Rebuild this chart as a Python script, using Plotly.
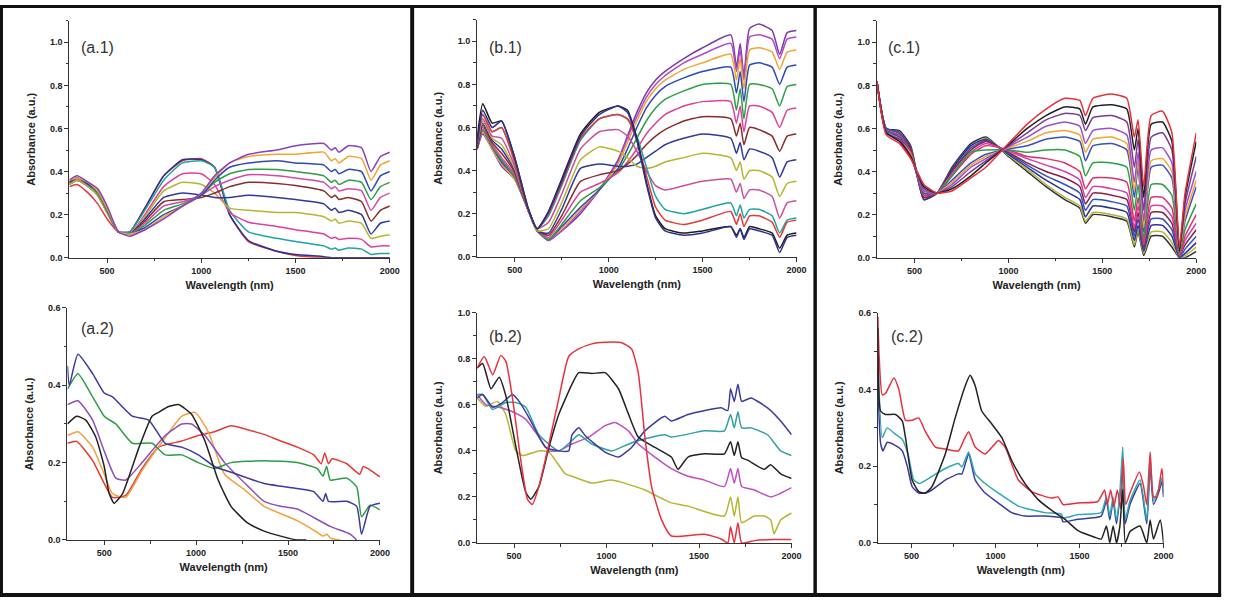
import plotly.graph_objects as go

W, H = 1245, 603

# ---------------- (a.1) ----------------
A1_WL = [300, 340, 400, 450, 500, 560, 620, 700, 800, 900, 1000, 1070, 1150, 1250, 1400, 1500, 1650, 1690, 1710, 1730, 1780, 1850, 1900, 1950, 2000]
A1_ABS = [
    [0.33, 0.34, 0.30, 0.25, 0.18, 0.12, 0.12, 0.23, 0.38, 0.45, 0.46, 0.42, 0.20, 0.075, 0.03, 0.01, 0.0, 0.0, 0.0, 0.0, 0.0, 0.0, 0.0, 0.0, 0.0],
    [0.34, 0.36, 0.33, 0.29, 0.21, 0.12, 0.12, 0.23, 0.38, 0.455, 0.455, 0.42, 0.20, 0.08, 0.03, 0.015, 0.005, 0.0, 0.0, 0.0, 0.0, 0.0, 0.0, 0.0, 0.0],
    [0.34, 0.36, 0.33, 0.29, 0.21, 0.12, 0.12, 0.22, 0.36, 0.44, 0.45, 0.42, 0.22, 0.12, 0.09, 0.075, 0.055, 0.04, 0.045, 0.035, 0.045, 0.04, 0.015, 0.02, 0.02],
    [0.34, 0.36, 0.33, 0.29, 0.21, 0.12, 0.11, 0.20, 0.33, 0.39, 0.39, 0.34, 0.21, 0.165, 0.145, 0.13, 0.11, 0.09, 0.095, 0.085, 0.09, 0.085, 0.05, 0.055, 0.055],
    [0.34, 0.36, 0.33, 0.29, 0.21, 0.12, 0.11, 0.19, 0.31, 0.35, 0.34, 0.30, 0.23, 0.22, 0.21, 0.21, 0.19, 0.17, 0.18, 0.16, 0.17, 0.16, 0.09, 0.10, 0.105],
    [0.35, 0.37, 0.34, 0.30, 0.22, 0.12, 0.11, 0.18, 0.28, 0.30, 0.29, 0.28, 0.28, 0.29, 0.28, 0.27, 0.25, 0.22, 0.23, 0.21, 0.22, 0.20, 0.11, 0.16, 0.17],
    [0.35, 0.37, 0.34, 0.30, 0.22, 0.12, 0.11, 0.17, 0.26, 0.27, 0.28, 0.30, 0.33, 0.35, 0.345, 0.335, 0.31, 0.28, 0.29, 0.27, 0.28, 0.26, 0.17, 0.22, 0.24],
    [0.35, 0.37, 0.34, 0.30, 0.22, 0.12, 0.11, 0.16, 0.24, 0.26, 0.29, 0.33, 0.36, 0.385, 0.38, 0.37, 0.35, 0.32, 0.33, 0.31, 0.32, 0.31, 0.22, 0.28, 0.30],
    [0.35, 0.37, 0.34, 0.30, 0.22, 0.12, 0.11, 0.15, 0.22, 0.25, 0.29, 0.35, 0.39, 0.41, 0.41, 0.40, 0.38, 0.35, 0.36, 0.34, 0.36, 0.35, 0.27, 0.33, 0.35],
    [0.35, 0.37, 0.34, 0.31, 0.23, 0.12, 0.11, 0.14, 0.20, 0.24, 0.29, 0.36, 0.42, 0.44, 0.45, 0.44, 0.43, 0.40, 0.41, 0.39, 0.41, 0.40, 0.31, 0.38, 0.40],
    [0.36, 0.37, 0.35, 0.31, 0.23, 0.12, 0.11, 0.13, 0.19, 0.24, 0.30, 0.37, 0.44, 0.47, 0.48, 0.48, 0.49, 0.45, 0.46, 0.44, 0.47, 0.46, 0.36, 0.43, 0.45],
    [0.36, 0.38, 0.35, 0.32, 0.24, 0.12, 0.10, 0.13, 0.18, 0.24, 0.30, 0.38, 0.44, 0.48, 0.50, 0.52, 0.53, 0.50, 0.51, 0.49, 0.52, 0.51, 0.40, 0.47, 0.49],
]
A1_COLORS = ["#e5383b", "#2c3190", "#1fa3a3", "#e0409c", "#b5b532", "#2e3a9a",
             "#8b2b2b", "#d04aa8", "#2e9e44", "#2f48b8", "#f2a531", "#8a40b8"]

# ---------------- (a.2) ----------------
A2_BLUE_X = [300, 310, 357, 437, 500, 545, 653, 742, 832, 922, 1012, 1100, 1190, 1370, 1550, 1640, 1690, 1705, 1720, 1820, 1874, 1900, 1946, 2000]
A2_BLUE_Y = [0.45, 0.40, 0.48, 0.43, 0.38, 0.37, 0.32, 0.31, 0.25, 0.24, 0.22, 0.19, 0.175, 0.146, 0.133, 0.125, 0.10, 0.12, 0.10, 0.10, 0.087, 0.015, 0.087, 0.095]
A2_GREEN_X = [300, 357, 437, 500, 563, 653, 760, 832, 922, 1012, 1100, 1190, 1370, 1550, 1658, 1690, 1710, 1730, 1820, 1874, 1900, 1946, 2000]
A2_GREEN_Y = [0.39, 0.43, 0.37, 0.32, 0.30, 0.25, 0.25, 0.22, 0.22, 0.20, 0.185, 0.20, 0.205, 0.20, 0.185, 0.165, 0.19, 0.155, 0.16, 0.137, 0.06, 0.09, 0.078]
A2_PURPLE_X = [300, 357, 437, 500, 563, 617, 706, 832, 922, 975, 1048, 1155, 1280, 1370, 1460, 1550, 1730, 1838, 1874]
A2_PURPLE_Y = [0.35, 0.36, 0.31, 0.23, 0.16, 0.155, 0.20, 0.27, 0.30, 0.30, 0.27, 0.20, 0.14, 0.10, 0.087, 0.08, 0.035, 0.015, 0.0]
A2_BLACK_X = [300, 350, 400, 455, 500, 527, 554, 600, 690, 760, 796, 850, 904, 975, 1048, 1120, 1190, 1280, 1370, 1460, 1550, 1600]
A2_BLACK_Y = [0.30, 0.32, 0.31, 0.265, 0.19, 0.12, 0.095, 0.12, 0.24, 0.32, 0.33, 0.345, 0.35, 0.325, 0.256, 0.155, 0.087, 0.044, 0.023, 0.01, 0.0, 0.0]
A2_ORANGE_X = [300, 357, 437, 500, 545, 617, 706, 832, 922, 994, 1066, 1155, 1263, 1370, 1550, 1658, 1690, 1712, 1730, 1784]
A2_ORANGE_Y = [0.27, 0.28, 0.24, 0.17, 0.12, 0.11, 0.18, 0.265, 0.32, 0.33, 0.28, 0.17, 0.13, 0.087, 0.05, 0.02, 0.01, 0.015, 0.005, 0.0]
A2_RED_X = [300, 350, 437, 500, 545, 617, 706, 796, 922, 1012, 1100, 1190, 1280, 1370, 1460, 1550, 1640, 1680, 1700, 1720, 1740, 1820, 1890, 1910, 2000]
A2_RED_Y = [0.25, 0.255, 0.205, 0.146, 0.11, 0.115, 0.185, 0.24, 0.256, 0.27, 0.28, 0.295, 0.285, 0.273, 0.256, 0.24, 0.22, 0.197, 0.225, 0.197, 0.21, 0.197, 0.17, 0.19, 0.163]

# ---------------- (b.1) ----------------
B1_WL = [300, 330, 380, 430, 500, 570, 620, 680, 750, 850, 950, 1050, 1100, 1150, 1200, 1250, 1300, 1400, 1500, 1650, 1680, 1700, 1720, 1750, 1800, 1870, 1910, 1950, 2000]
B1_ABS = [
    [0.52, 0.68, 0.60, 0.63, 0.46, 0.23, 0.13, 0.21, 0.35, 0.56, 0.66, 0.70, 0.67, 0.54, 0.34, 0.18, 0.12, 0.10, 0.11, 0.14, 0.09, 0.13, 0.08, 0.13, 0.12, 0.10, 0.02, 0.09, 0.10],
    [0.55, 0.71, 0.62, 0.63, 0.46, 0.23, 0.13, 0.21, 0.36, 0.57, 0.67, 0.70, 0.68, 0.55, 0.35, 0.19, 0.13, 0.11, 0.12, 0.14, 0.10, 0.13, 0.09, 0.14, 0.13, 0.11, 0.04, 0.10, 0.11],
    [0.53, 0.66, 0.58, 0.60, 0.44, 0.22, 0.13, 0.20, 0.34, 0.55, 0.64, 0.66, 0.64, 0.54, 0.38, 0.23, 0.17, 0.15, 0.17, 0.21, 0.15, 0.20, 0.14, 0.19, 0.19, 0.16, 0.09, 0.16, 0.17],
    [0.53, 0.66, 0.58, 0.60, 0.44, 0.22, 0.13, 0.19, 0.33, 0.54, 0.64, 0.66, 0.64, 0.56, 0.42, 0.28, 0.22, 0.20, 0.22, 0.25, 0.19, 0.24, 0.18, 0.22, 0.22, 0.19, 0.11, 0.17, 0.18],
    [0.52, 0.64, 0.56, 0.55, 0.42, 0.22, 0.13, 0.16, 0.29, 0.50, 0.58, 0.59, 0.56, 0.49, 0.40, 0.33, 0.31, 0.33, 0.35, 0.36, 0.30, 0.34, 0.27, 0.31, 0.31, 0.28, 0.18, 0.25, 0.26],
    [0.52, 0.63, 0.55, 0.52, 0.41, 0.22, 0.12, 0.13, 0.25, 0.45, 0.51, 0.49, 0.46, 0.42, 0.41, 0.42, 0.44, 0.46, 0.48, 0.46, 0.40, 0.44, 0.36, 0.40, 0.40, 0.37, 0.28, 0.34, 0.35],
    [0.51, 0.62, 0.54, 0.50, 0.40, 0.22, 0.12, 0.11, 0.22, 0.41, 0.43, 0.42, 0.42, 0.43, 0.46, 0.49, 0.52, 0.55, 0.57, 0.55, 0.48, 0.53, 0.45, 0.50, 0.49, 0.46, 0.37, 0.44, 0.45],
    [0.50, 0.61, 0.53, 0.48, 0.39, 0.22, 0.12, 0.10, 0.19, 0.35, 0.38, 0.40, 0.43, 0.47, 0.52, 0.56, 0.59, 0.63, 0.65, 0.64, 0.56, 0.62, 0.52, 0.60, 0.59, 0.56, 0.49, 0.56, 0.57],
    [0.50, 0.60, 0.52, 0.46, 0.38, 0.22, 0.12, 0.09, 0.17, 0.30, 0.34, 0.39, 0.44, 0.50, 0.57, 0.62, 0.66, 0.70, 0.72, 0.72, 0.62, 0.70, 0.58, 0.70, 0.70, 0.67, 0.60, 0.68, 0.69],
    [0.50, 0.59, 0.51, 0.45, 0.37, 0.22, 0.12, 0.08, 0.15, 0.26, 0.32, 0.40, 0.47, 0.55, 0.63, 0.69, 0.73, 0.77, 0.80, 0.80, 0.68, 0.78, 0.64, 0.80, 0.80, 0.78, 0.70, 0.79, 0.80],
    [0.50, 0.59, 0.51, 0.44, 0.37, 0.22, 0.12, 0.08, 0.14, 0.23, 0.31, 0.41, 0.50, 0.60, 0.69, 0.75, 0.79, 0.83, 0.86, 0.88, 0.76, 0.86, 0.72, 0.89, 0.90, 0.88, 0.80, 0.88, 0.89],
    [0.50, 0.58, 0.50, 0.43, 0.36, 0.22, 0.12, 0.08, 0.13, 0.22, 0.31, 0.43, 0.53, 0.63, 0.72, 0.78, 0.82, 0.87, 0.90, 0.94, 0.82, 0.92, 0.78, 0.96, 0.97, 0.95, 0.87, 0.95, 0.96],
    [0.50, 0.58, 0.50, 0.43, 0.36, 0.22, 0.12, 0.075, 0.12, 0.21, 0.31, 0.44, 0.55, 0.65, 0.74, 0.80, 0.84, 0.90, 0.94, 0.99, 0.86, 0.96, 0.82, 1.02, 1.03, 1.01, 0.92, 1.01, 1.02],
    [0.50, 0.57, 0.50, 0.42, 0.36, 0.22, 0.12, 0.075, 0.12, 0.20, 0.31, 0.45, 0.56, 0.67, 0.76, 0.82, 0.86, 0.92, 0.97, 1.03, 0.88, 0.99, 0.84, 1.06, 1.08, 1.05, 0.94, 1.04, 1.05],
]
B1_COLORS = ["#2c3190", "#1e1e1e", "#e53935", "#1fa3a3", "#c8509c", "#b5b532", "#2e3a9a",
             "#8b2b2b", "#e0409c", "#2e9e44", "#2f48b8", "#f2a531", "#b04ac8", "#7a3aa8"]

# ---------------- (b.2) ----------------
B2_RED_X = [300, 339, 384, 428, 455, 491, 536, 572, 598, 634, 688, 742, 795, 849, 920, 992, 1082, 1135, 1171, 1207, 1243, 1297, 1350, 1529, 1619, 1655, 1670, 1690, 1710, 1730, 1800, 1900, 2000]
B2_RED_Y = [0.76, 0.81, 0.73, 0.815, 0.79, 0.63, 0.36, 0.19, 0.167, 0.245, 0.43, 0.63, 0.81, 0.843, 0.865, 0.872, 0.87, 0.843, 0.74, 0.46, 0.245, 0.10, 0.03, 0.038, 0.017, 0.0, 0.07, 0.0, 0.088, 0.0, 0.01, 0.015, 0.015]
B2_BLACK_X = [300, 330, 375, 419, 455, 509, 563, 590, 634, 688, 742, 813, 849, 920, 992, 1064, 1118, 1171, 1261, 1350, 1386, 1440, 1529, 1637, 1670, 1690, 1710, 1730, 1762, 1852, 1887, 1941, 2000]
B2_BLACK_Y = [0.76, 0.78, 0.67, 0.72, 0.64, 0.42, 0.22, 0.19, 0.245, 0.415, 0.56, 0.69, 0.74, 0.736, 0.74, 0.67, 0.56, 0.46, 0.415, 0.373, 0.32, 0.373, 0.387, 0.387, 0.44, 0.38, 0.44, 0.37, 0.36, 0.32, 0.34, 0.30, 0.28]
B2_BLUE_X = [300, 330, 384, 437, 491, 527, 580, 670, 742, 795, 813, 849, 885, 992, 1064, 1135, 1207, 1314, 1350, 1440, 1619, 1655, 1670, 1690, 1710, 1730, 1780, 1870, 1941, 2000]
B2_BLUE_Y = [0.63, 0.645, 0.59, 0.61, 0.645, 0.615, 0.545, 0.415, 0.40, 0.40, 0.47, 0.50, 0.466, 0.395, 0.373, 0.415, 0.487, 0.55, 0.53, 0.558, 0.587, 0.575, 0.67, 0.615, 0.69, 0.615, 0.63, 0.587, 0.53, 0.47]
B2_TEAL_X = [300, 330, 384, 455, 509, 563, 634, 742, 813, 849, 920, 1028, 1100, 1171, 1314, 1350, 1529, 1637, 1670, 1690, 1710, 1730, 1780, 1870, 1941, 2000]
B2_TEAL_Y = [0.645, 0.645, 0.58, 0.61, 0.61, 0.59, 0.47, 0.40, 0.445, 0.47, 0.43, 0.40, 0.423, 0.445, 0.47, 0.46, 0.487, 0.487, 0.558, 0.50, 0.57, 0.50, 0.50, 0.47, 0.40, 0.38]
B2_MAGENTA_X = [300, 348, 419, 491, 563, 634, 688, 742, 813, 903, 992, 1046, 1118, 1171, 1261, 1350, 1440, 1529, 1637, 1670, 1690, 1710, 1730, 1798, 1887, 1941, 2000]
B2_MAGENTA_Y = [0.645, 0.60, 0.59, 0.57, 0.537, 0.46, 0.40, 0.40, 0.43, 0.46, 0.51, 0.523, 0.487, 0.43, 0.373, 0.323, 0.29, 0.273, 0.245, 0.323, 0.26, 0.323, 0.245, 0.23, 0.20, 0.216, 0.24]
B2_OLIVE_X = [300, 348, 410, 455, 509, 545, 634, 688, 777, 813, 920, 1028, 1135, 1207, 1350, 1440, 1637, 1670, 1690, 1710, 1730, 1798, 1852, 1887, 1905, 1941, 2000]
B2_OLIVE_Y = [0.63, 0.594, 0.615, 0.558, 0.40, 0.38, 0.40, 0.395, 0.30, 0.29, 0.26, 0.273, 0.25, 0.23, 0.174, 0.16, 0.117, 0.20, 0.117, 0.20, 0.088, 0.117, 0.117, 0.10, 0.04, 0.10, 0.13]

# ---------------- (c.1) ----------------
C1_WL = [300, 350, 420, 480, 550, 620, 700, 800, 880, 1000, 1100, 1200, 1300, 1380, 1410, 1450, 1550, 1630, 1670, 1690, 1720, 1760, 1820, 1870, 1910, 1940, 2000]
C1_ABS = [
    [0.82, 0.60, 0.59, 0.52, 0.27, 0.30, 0.42, 0.53, 0.56, 0.47, 0.40, 0.33, 0.27, 0.23, 0.16, 0.20, 0.19, 0.17, 0.05, 0.12, 0.01, 0.10, 0.10, 0.05, 0.0, 0.0, 0.03],
    [0.82, 0.60, 0.58, 0.51, 0.27, 0.30, 0.41, 0.52, 0.555, 0.475, 0.41, 0.34, 0.28, 0.24, 0.17, 0.21, 0.20, 0.18, 0.06, 0.13, 0.02, 0.12, 0.12, 0.07, 0.0, 0.01, 0.05],
    [0.82, 0.60, 0.58, 0.51, 0.27, 0.30, 0.41, 0.52, 0.55, 0.48, 0.42, 0.36, 0.31, 0.27, 0.19, 0.24, 0.23, 0.21, 0.08, 0.15, 0.03, 0.15, 0.15, 0.10, 0.0, 0.02, 0.07],
    [0.82, 0.60, 0.58, 0.50, 0.28, 0.30, 0.40, 0.51, 0.545, 0.485, 0.43, 0.38, 0.34, 0.30, 0.22, 0.27, 0.26, 0.24, 0.10, 0.18, 0.04, 0.18, 0.18, 0.13, 0.0, 0.04, 0.10],
    [0.82, 0.59, 0.57, 0.50, 0.28, 0.30, 0.40, 0.50, 0.54, 0.49, 0.44, 0.40, 0.37, 0.33, 0.25, 0.30, 0.29, 0.27, 0.12, 0.21, 0.05, 0.21, 0.21, 0.16, 0.01, 0.06, 0.13],
    [0.82, 0.59, 0.57, 0.49, 0.29, 0.30, 0.39, 0.49, 0.53, 0.495, 0.46, 0.43, 0.40, 0.36, 0.28, 0.33, 0.32, 0.30, 0.14, 0.24, 0.06, 0.24, 0.24, 0.19, 0.01, 0.08, 0.16],
    [0.82, 0.59, 0.57, 0.49, 0.29, 0.30, 0.38, 0.48, 0.52, 0.50, 0.47, 0.46, 0.44, 0.40, 0.32, 0.37, 0.37, 0.35, 0.17, 0.28, 0.07, 0.28, 0.28, 0.23, 0.01, 0.10, 0.20],
    [0.82, 0.59, 0.56, 0.48, 0.30, 0.30, 0.38, 0.49, 0.50, 0.50, 0.49, 0.50, 0.50, 0.47, 0.38, 0.44, 0.44, 0.42, 0.22, 0.34, 0.09, 0.34, 0.34, 0.29, 0.02, 0.13, 0.25],
    [0.82, 0.59, 0.56, 0.48, 0.30, 0.30, 0.36, 0.44, 0.48, 0.505, 0.52, 0.55, 0.56, 0.54, 0.45, 0.52, 0.53, 0.50, 0.28, 0.42, 0.12, 0.42, 0.43, 0.37, 0.03, 0.17, 0.33],
    [0.82, 0.58, 0.55, 0.48, 0.31, 0.30, 0.35, 0.43, 0.47, 0.51, 0.54, 0.58, 0.59, 0.57, 0.49, 0.55, 0.56, 0.53, 0.31, 0.45, 0.14, 0.45, 0.46, 0.40, 0.03, 0.19, 0.36],
    [0.82, 0.58, 0.55, 0.47, 0.31, 0.30, 0.34, 0.42, 0.46, 0.515, 0.56, 0.61, 0.63, 0.61, 0.53, 0.59, 0.60, 0.57, 0.35, 0.49, 0.17, 0.50, 0.51, 0.44, 0.04, 0.22, 0.40],
    [0.82, 0.58, 0.55, 0.47, 0.32, 0.30, 0.33, 0.40, 0.45, 0.52, 0.58, 0.64, 0.67, 0.66, 0.59, 0.65, 0.66, 0.63, 0.42, 0.55, 0.22, 0.56, 0.58, 0.50, 0.04, 0.25, 0.47],
    [0.82, 0.58, 0.54, 0.47, 0.33, 0.30, 0.32, 0.38, 0.44, 0.525, 0.60, 0.66, 0.70, 0.69, 0.62, 0.70, 0.71, 0.69, 0.50, 0.60, 0.28, 0.62, 0.63, 0.54, 0.03, 0.28, 0.54],
    [0.82, 0.57, 0.53, 0.46, 0.34, 0.30, 0.31, 0.37, 0.42, 0.53, 0.62, 0.69, 0.74, 0.73, 0.66, 0.74, 0.76, 0.74, 0.56, 0.64, 0.33, 0.66, 0.68, 0.58, 0.05, 0.30, 0.58],
]
C1_COLORS = ["#303040", "#b5b532", "#2c3190", "#3050c8", "#8b2040", "#d040b0", "#e0306a",
             "#2e9e44", "#3a4fc0", "#f2a531", "#9a50c8", "#7a3a9a", "#222222", "#e8303a"]

# ---------------- (c.2) ----------------
C2_RED_X = [300, 307, 326, 346, 395, 425, 464, 504, 543, 583, 642, 701, 780, 810, 840, 879, 938, 988, 1017, 1057, 1136, 1215, 1333, 1372, 1402, 1491, 1609, 1649, 1665, 1685, 1705, 1725, 1745, 1760, 1775, 1800, 1856, 1880, 1900, 1920, 1940, 1960, 1990, 2000]
C2_RED_Y = [0.59, 0.49, 0.386, 0.39, 0.43, 0.40, 0.32, 0.32, 0.326, 0.29, 0.25, 0.245, 0.24, 0.267, 0.29, 0.25, 0.232, 0.254, 0.267, 0.25, 0.164, 0.134, 0.117, 0.12, 0.10, 0.104, 0.108, 0.138, 0.10, 0.138, 0.095, 0.138, 0.09, 0.22, 0.10, 0.13, 0.185, 0.15, 0.10, 0.237, 0.12, 0.12, 0.194, 0.147]
C2_TEAL_X = [300, 326, 355, 400, 445, 480, 513, 545, 620, 701, 780, 800, 840, 879, 938, 1017, 1136, 1294, 1392, 1402, 1491, 1629, 1660, 1680, 1700, 1720, 1740, 1757, 1772, 1800, 1860, 1900, 1920, 1940, 1970, 1990, 2000]
C2_TEAL_Y = [0.50, 0.275, 0.30, 0.285, 0.27, 0.23, 0.165, 0.155, 0.173, 0.194, 0.207, 0.198, 0.237, 0.18, 0.155, 0.13, 0.096, 0.079, 0.075, 0.065, 0.074, 0.079, 0.12, 0.07, 0.12, 0.06, 0.13, 0.25, 0.06, 0.11, 0.164, 0.06, 0.224, 0.11, 0.14, 0.17, 0.13]
C2_BLUE_X = [300, 316, 330, 355, 400, 445, 475, 504, 543, 583, 622, 701, 780, 800, 840, 879, 938, 1017, 1096, 1175, 1294, 1392, 1402, 1491, 1629, 1660, 1680, 1700, 1720, 1740, 1757, 1772, 1800, 1860, 1900, 1920, 1940, 1970, 1990, 2000]
C2_BLUE_Y = [0.42, 0.26, 0.24, 0.262, 0.255, 0.24, 0.20, 0.147, 0.13, 0.13, 0.138, 0.164, 0.18, 0.18, 0.232, 0.164, 0.13, 0.104, 0.079, 0.07, 0.07, 0.065, 0.055, 0.062, 0.07, 0.11, 0.06, 0.11, 0.05, 0.12, 0.20, 0.05, 0.10, 0.155, 0.05, 0.20, 0.10, 0.13, 0.16, 0.12]
C2_BLACK_X = [300, 316, 346, 405, 445, 464, 504, 543, 583, 622, 701, 760, 820, 849, 879, 918, 978, 1037, 1096, 1175, 1254, 1353, 1412, 1491, 1590, 1629, 1660, 1680, 1700, 1720, 1740, 1757, 1772, 1800, 1860, 1900, 1920, 1940, 1980, 2000]
C2_BLACK_Y = [0.56, 0.344, 0.335, 0.335, 0.318, 0.275, 0.164, 0.134, 0.13, 0.147, 0.232, 0.326, 0.41, 0.437, 0.41, 0.344, 0.31, 0.275, 0.215, 0.155, 0.113, 0.079, 0.062, 0.032, 0.015, 0.01, 0.044, 0.0, 0.044, 0.0, 0.044, 0.14, 0.0, 0.03, 0.044, 0.0, 0.06, 0.01, 0.06, 0.0]

PANEL_LABELS = ["(a.1)", "(a.2)", "(b.1)", "(b.2)", "(c.1)", "(c.2)"]
X_TITLE = "Wavelength (nm)"
Y_TITLE = "Absorbance (a.u.)"

# ---------------- layout geometry (pixels) ----------------
# (x_left, x_right, y_top, y_bottom, y_max) per panel
GEOM = [
    (70, 393, 16, 257, 1.1),
    (68, 383, 308, 544, 0.6),
    (481, 803, 15, 256, 1.1),
    (481, 798, 313, 547, 1.0),
    (884, 1206, 16, 257, 1.1),
    (885, 1173, 313, 547, 0.6),
]
LABEL_POS = [(98, 43), (98, 329), (510, 43), (510, 337), (911, 43), (914, 337)]

FONT = "Liberation Sans, Arial, sans-serif"
AX = "#333333"

fig = go.Figure()


def line(x, y, color, n):
    suffix = "" if n == 1 else str(n)
    fig.add_trace(go.Scatter(
        x=x, y=y, mode="lines",
        line=dict(color=color, width=1.5, shape="spline", smoothing=0.5),
        xaxis="x" + suffix, yaxis="y" + suffix,
        showlegend=False, hoverinfo="skip"))


for curve, col in zip(A1_ABS, A1_COLORS):
    line(A1_WL, curve, col, 1)

for xs, ys, col in [
    (A2_RED_X, A2_RED_Y, "#e53935"), (A2_ORANGE_X, A2_ORANGE_Y, "#f2a040"),
    (A2_GREEN_X, A2_GREEN_Y, "#2e9e44"), (A2_PURPLE_X, A2_PURPLE_Y, "#8a4fb8"),
    (A2_BLUE_X, A2_BLUE_Y, "#3a3aa0"), (A2_BLACK_X, A2_BLACK_Y, "#222222")]:
    line(xs, ys, col, 2)

for curve, col in list(zip(B1_ABS, B1_COLORS))[::-1]:
    line(B1_WL, curve, col, 3)

for xs, ys, col in [
    (B2_OLIVE_X, B2_OLIVE_Y, "#b5b532"), (B2_MAGENTA_X, B2_MAGENTA_Y, "#c050c0"),
    (B2_TEAL_X, B2_TEAL_Y, "#30a0a0"), (B2_BLUE_X, B2_BLUE_Y, "#3a3aa0"),
    (B2_BLACK_X, B2_BLACK_Y, "#222222"), (B2_RED_X, B2_RED_Y, "#e83040")]:
    line(xs, ys, col, 4)

for curve, col in zip(C1_ABS, C1_COLORS):
    line(C1_WL, curve, col, 5)

for xs, ys, col in [
    (C2_BLUE_X, C2_BLUE_Y, "#3a3aa0"), (C2_TEAL_X, C2_TEAL_Y, "#30a8b0"),
    (C2_RED_X, C2_RED_Y, "#e83040"), (C2_BLACK_X, C2_BLACK_Y, "#222222")]:
    line(xs, ys, col, 6)

layout = dict(
    width=W, height=H, autosize=False,
    margin=dict(l=0, r=0, t=0, b=0),
    paper_bgcolor="white", plot_bgcolor="white",
    font=dict(family=FONT, color="#222222"),
)

for i, (xl, xr, yt, yb, ymax) in enumerate(GEOM):
    n = i + 1
    sx = "" if n == 1 else str(n)
    layout["xaxis" + sx] = dict(
        domain=[xl / W, xr / W], anchor="y" + sx, range=[300, 2000],
        showline=True, linecolor=AX, linewidth=1.3, zeroline=False, showgrid=False,
        ticks="outside", ticklen=4, tickwidth=1.2, tickcolor=AX,
        tick0=0, dtick=500,
        minor=dict(ticks="outside", ticklen=2.5, tickwidth=1, tickcolor=AX, tick0=0, dtick=250),
        tickfont=dict(family=FONT, size=9, color="#222222", weight="bold"),
        title=dict(text=X_TITLE, standoff=6,
                   font=dict(family=FONT, size=11, color="#222222", weight="bold")),
        fixedrange=True,
    )
    layout["yaxis" + sx] = dict(
        domain=[1 - yb / H, 1 - yt / H], anchor="x" + sx, range=[0, ymax],
        showline=True, linecolor=AX, linewidth=1.3, zeroline=False, showgrid=False,
        ticks="outside", ticklen=4, tickwidth=1.2, tickcolor=AX,
        tick0=0, dtick=0.2, tickformat=".1f",
        minor=dict(ticks="outside", ticklen=2.5, tickwidth=1, tickcolor=AX, tick0=0, dtick=0.1),
        tickfont=dict(family=FONT, size=9, color="#222222", weight="bold"),
        title=dict(text=Y_TITLE, standoff=12,
                   font=dict(family=FONT, size=11, color="#222222", weight="bold")),
        fixedrange=True,
    )

annotations = []
for (lx, ly), txt in zip(LABEL_POS, PANEL_LABELS):
    annotations.append(dict(
        x=lx / W, y=1 - ly / H, xref="paper", yref="paper",
        text=txt, showarrow=False, xanchor="center", yanchor="middle",
        font=dict(family=FONT, size=16, color="#333333")))
layout["annotations"] = annotations


def rect(x0, y0, x1, y1):
    return dict(type="rect", xref="paper", yref="paper",
                x0=x0 / W, x1=x1 / W, y0=1 - y1 / H, y1=1 - y0 / H,
                fillcolor="#111111", line=dict(width=0), layer="above")


layout["shapes"] = [
    rect(0, 0, 3, 602),
    rect(0, 0, 1231, 3),
    rect(0, 598, 1231, 602),
    rect(1228, 0, 1231, 602),
    rect(413.5, 0, 417.5, 602),
    rect(820, 0, 823.5, 602),
]

fig.update_layout(**layout)
fig.write_html(
    "out.html",
    config={"displayModeBar": False},
    post_script="document.body.style.margin='0px';document.body.style.padding='0px';"
                "document.body.style.overflow='hidden';",
)
